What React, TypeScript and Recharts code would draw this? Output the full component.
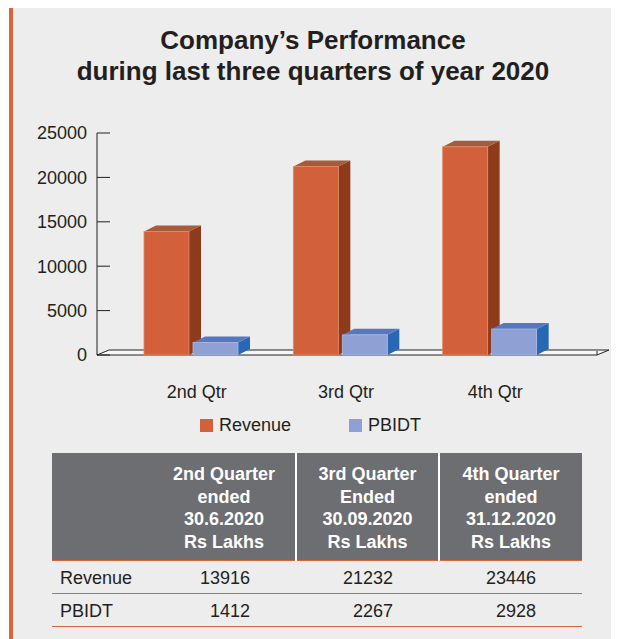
import React from 'react';
import { BarChart, Bar, XAxis, YAxis, ReferenceLine } from 'recharts';

const categories = ['2nd Qtr', '3rd Qtr', '4th Qtr'];
const revenue = [13916, 21232, 23446];
const pbidt = [1412, 2267, 2928];
const yTicks = [0, 5000, 10000, 15000, 20000, 25000];

const seriesNames = ['Revenue', 'PBIDT'];
const tableHeaders = [
  ['2nd Quarter', 'ended', '30.6.2020', 'Rs Lakhs'],
  ['3rd Quarter', 'Ended', '30.09.2020', 'Rs Lakhs'],
  ['4th Quarter', 'ended', '31.12.2020', 'Rs Lakhs'],
];

const data = categories.map((c, i) => ({ name: c, revenue: revenue[i], pbidt: pbidt[i] }));

const TEXT = '#231f20';
const ORANGE = '#d9653b';
const DX = 12;
const DY = -6;

const revColors = { front: '#d2603a', top: '#a65c3a', side: '#8d3b1b', edge: '#e38a63' };
const pbColors = { front: '#8fa1d4', top: '#5678c1', side: '#2767b4', edge: '#a9b8e0' };

const make3DBar = (c: typeof revColors) => (props: any) => {
  const { x, y, width: w, height: h } = props;
  if (w == null || h == null || h <= 0) return <g />;
  return (
    <g>
      <polygon
        points={`${x + w},${y} ${x + w + DX},${y + DY} ${x + w + DX},${y + h + DY} ${x + w},${y + h}`}
        fill={c.side}
      />
      <polygon
        points={`${x},${y} ${x + DX},${y + DY} ${x + w + DX},${y + DY} ${x + w},${y}`}
        fill={c.top}
      />
      <rect x={x} y={y} width={w} height={h} fill={c.front} stroke={c.edge} strokeWidth={0.8} />
    </g>
  );
};

// floor slab under the bars, spans the plot width
const Floor = (props: any) => {
  const { x1, y1, x2 } = props;
  const l = Math.min(x1, x2);
  const r = Math.max(x1, x2);
  return (
    <g>
      <polygon
        points={`${l},${y1} ${l + DX},${y1 - 5} ${r + DX},${y1 - 5} ${r},${y1}`}
        fill="#f7f7f7"
        stroke="#222"
        strokeWidth={1}
      />
      <line x1={r} y1={y1} x2={r} y2={y1 - 4} stroke="#222" strokeWidth={1} />
    </g>
  );
};

const YTick = (props: any) => {
  const { x, y, payload } = props;
  return (
    <g>
      <line x1={x} y1={y} x2={x + 13} y2={y} stroke={TEXT} strokeWidth={1} />
      <text x={x - 10} y={y} dy="0.35em" textAnchor="end" fontSize={18} fill={TEXT}>
        {payload.value}
      </text>
    </g>
  );
};

const XTick = (props: any) => {
  const { x, y, payload } = props;
  return (
    <text x={x + 6} y={y + 29} dy="0.35em" textAnchor="middle" fontSize={18} fill={TEXT}>
      {payload.value}
    </text>
  );
};

export default function App() {
  const font = '"Liberation Sans", Arial, sans-serif';
  return (
    <div style={{ position: 'relative', width: 611, height: 640, fontFamily: font, color: TEXT, overflow: 'hidden' }}>
      <div style={{ position: 'absolute', left: 1, top: 0, width: 4, height: 640, background: ORANGE }} />
      <div style={{ position: 'absolute', left: 5, top: 0, width: 606, height: 640, background: '#ededed' }} />

      <div
        style={{
          position: 'absolute', left: 5, top: 17, width: 600, textAlign: 'center',
          fontSize: 26, fontWeight: 'bold', lineHeight: '31px',
        }}
      >
        Company’s Performance
        <br />
        during last three quarters of year 2020
      </div>

      <div style={{ position: 'absolute', left: 0, top: 0 }}>
        <BarChart
          width={611}
          height={400}
          data={data}
          margin={{ top: 125, right: 22, bottom: 13, left: 0 }}
          barGap={4}
        >
          <XAxis
            dataKey="name"
            height={40}
            axisLine={false}
            tickLine={false}
            padding={{ left: 19, right: 33 }}
            tick={<XTick />}
          />
          <YAxis
            width={89}
            domain={[0, 25000]}
            ticks={yTicks}
            interval={0}
            tickSize={0}
            tickMargin={0}
            axisLine={{ stroke: TEXT, strokeWidth: 1 }}
            tickLine={false}
            tick={<YTick />}
          />
          <ReferenceLine y={0} shape={<Floor />} zIndex={-10} ifOverflow="visible" />
          <Bar dataKey="revenue" name={seriesNames[0]} barSize={45} fill={revColors.front} shape={make3DBar(revColors)} isAnimationActive={false} />
          <Bar dataKey="pbidt" name={seriesNames[1]} barSize={45} fill={pbColors.front} shape={make3DBar(pbColors)} isAnimationActive={false} />
        </BarChart>
      </div>

      <div
        style={{
          position: 'absolute', left: 192, top: 406, display: 'flex', gap: 58,
          fontSize: 18, lineHeight: '22px',
        }}
      >
        {seriesNames.map((n, i) => (
          <div key={n} style={{ display: 'flex', alignItems: 'center', gap: 6 }}>
            <span style={{ width: 13, height: 13, background: i === 0 ? revColors.front : pbColors.front, display: 'inline-block' }} />
            <span>{n}</span>
          </div>
        ))}
      </div>

      <table
        style={{
          position: 'absolute', left: 44, top: 445, width: 530, borderCollapse: 'collapse',
          tableLayout: 'fixed', fontSize: 18,
        }}
      >
        <colgroup>
          <col style={{ width: 101 }} />
          <col style={{ width: 143 }} />
          <col style={{ width: 143 }} />
          <col style={{ width: 143 }} />
        </colgroup>
        <thead>
          <tr style={{ height: 107 }}>
            <th style={{ background: '#6d6e71', borderBottom: `1.5px solid ${ORANGE}`, padding: 0 }} />
            {tableHeaders.map((lines, i) => (
              <th
                key={i}
                style={{
                  background: '#6d6e71', color: '#fff', fontWeight: 'bold', lineHeight: '22.5px',
                  textAlign: 'center', verticalAlign: 'middle', padding: '4px 0 0 0',
                  borderLeft: i > 0 ? '2px solid #fff' : 'none',
                  borderBottom: `1.5px solid ${ORANGE}`,
                }}
              >
                {lines.map((l) => (
                  <div key={l}>{l}</div>
                ))}
              </th>
            ))}
          </tr>
        </thead>
        <tbody>
          {[revenue, pbidt].map((vals, r) => (
            <tr key={r} style={{ height: 33 }}>
              <td style={{ padding: '3px 0 0 8px', borderBottom: `1.5px solid ${ORANGE}` }}>{seriesNames[r]}</td>
              {vals.map((v, i) => (
                <td key={i} style={{ textAlign: 'right', padding: '3px 46px 0 0', borderBottom: `1.5px solid ${ORANGE}` }}>
                  {v}
                </td>
              ))}
            </tr>
          ))}
        </tbody>
      </table>
    </div>
  );
}
